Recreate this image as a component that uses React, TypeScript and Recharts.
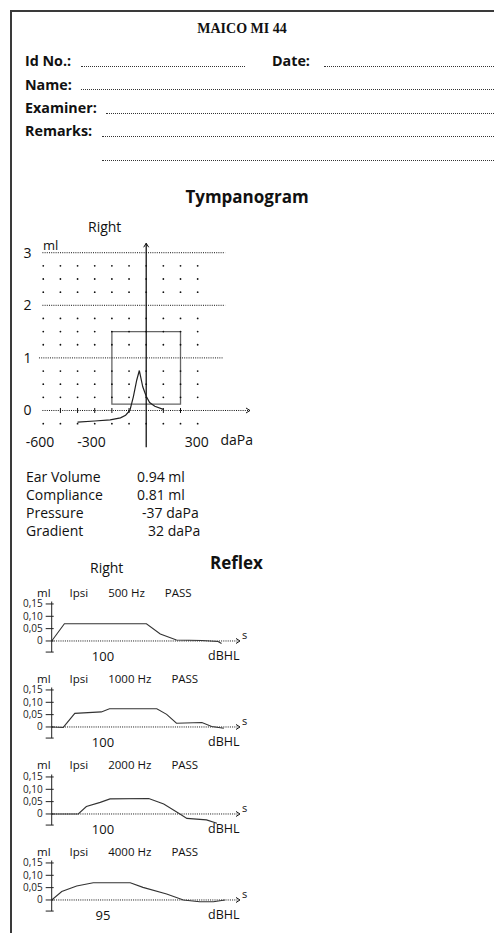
import React from "react";
import {
  ComposedChart,
  Line,
  Scatter,
  XAxis,
  YAxis,
  ReferenceLine,
  ReferenceArea,
  ReferenceDot,
} from "recharts";

const SANS = '"Open Sans", "Noto Sans", sans-serif';
const SERIF = '"Liberation Serif", "DejaVu Serif", serif';

// form header
const FORM_FIELDS = ["Id No.:", "Name:", "Examiner:", "Remarks:"];

// tympanogram curve (daPa / ml)
const TYMP_DAPA = [-400, -300, -210, -150, -120, -95, -75, -55, -40, -20, 0, 20, 50, 100];
const TYMP_ML = [-0.22, -0.2, -0.18, -0.14, -0.09, 0, 0.26, 0.58, 0.76, 0.45, 0.27, 0.15, 0.08, 0.02];
const TYMP_X_TICKS = [-600, -300, 300];
const TYMP_Y_TICKS = [0, 1, 2, 3];
const GRID_DAPA = [-600, -500, -400, -300, -200, -100, 0, 100, 200, 300];
const GRID_ML = [2.75, 2.5, 2.25, 1.75, 1.5, 1.25, 0.75, 0.5, 0.25, -0.25];
const ZERO_TICKS = [-500, -400, -300, -200, -100, 100, 200];
const NORMAL_DAPA = [-200, 200];
const NORMAL_ML = [0.12, 1.5];

const RESULT_LABELS = ["Ear Volume", "Compliance", "Pressure", "Gradient"];
const RESULT_VALUES = ["0.94 ml", "0.81 ml", "-37 daPa", "32 daPa"];

// acoustic reflex traces (s / ml)
const REFLEX_FREQ = ["500 Hz", "1000 Hz", "2000 Hz", "4000 Hz"];
const REFLEX_LEVEL = ["100", "100", "100", "95"];
const REFLEX_RESULT = ["PASS", "PASS", "PASS", "PASS"];
const REFLEX_T = [
  [0, 0.11, 0.82, 0.94, 1.08, 1.3, 1.44, 1.47],
  [0, 0.1, 0.2, 0.43, 0.5, 0.91, 0.995, 1.08, 1.3, 1.385, 1.49],
  [0, 0.23, 0.3, 0.42, 0.505, 0.84, 0.97, 1.11, 1.17, 1.34, 1.43],
  [0, 0.087, 0.216, 0.36, 0.476, 0.68, 0.79, 0.995, 1.14, 1.28, 1.4, 1.5],
];
const REFLEX_ML = [
  [0, 0.07, 0.07, 0.028, 0.004, 0.002, -0.002, -0.01],
  [0, -0.002, 0.055, 0.061, 0.074, 0.074, 0.051, 0.015, 0.018, 0.002, -0.005],
  [0, 0, 0.03, 0.047, 0.061, 0.063, 0.04, 0, -0.018, -0.024, -0.038],
  [0, 0.034, 0.057, 0.07, 0.07, 0.07, 0.051, 0.024, 0, -0.007, -0.007, 0],
];
const REFLEX_Y_TICKS = [-0.045, 0, 0.05, 0.1, 0.15];

const tympData = TYMP_DAPA.map((p, i) => ({ p, ml: TYMP_ML[i] }));
const gridDots = GRID_ML.flatMap((ml) => GRID_DAPA.map((p) => ({ p, ml })));
const zeroTicks = ZERO_TICKS.map((p) => ({ p, ml: 0 }));

function Txt({ x, y, size = 14, bold = false, family = SANS, children, style }: any) {
  return (
    <span
      style={{
        position: "absolute",
        left: x,
        top: y,
        transform: "translateY(-50%)",
        fontSize: size,
        fontWeight: bold ? 700 : 400,
        fontFamily: family,
        lineHeight: 1,
        whiteSpace: "nowrap",
        color: "#111",
        ...style,
      }}
    >
      {children}
    </span>
  );
}

function Dotted({ x1, x2, y }: { x1: number; x2: number; y: number }) {
  return (
    <div
      style={{
        position: "absolute",
        left: x1,
        top: y,
        width: x2 - x1,
        borderTop: "1px dotted #333",
      }}
    />
  );
}

const TympXTick = ({ x, y, payload }: any) => (
  <text x={x + 11} y={y - 2} textAnchor="end" fontSize={14} fill="#111" fontFamily={SANS}>
    {payload.value}
  </text>
);

const TympYTick = ({ x, y, payload }: any) => (
  <text x={x - 3} y={y} dy="0.35em" textAnchor="end" fontSize={14} fill="#111" fontFamily={SANS}>
    {payload.value}
  </text>
);

function Tympanogram() {
  return (
    <div style={{ position: "absolute", left: 0, top: 200 }}>
      <ComposedChart width={280} height={270} margin={{ top: 42.2, right: 24, bottom: 2.7, left: 6.4 }}>
        <XAxis
          type="number"
          dataKey="p"
          domain={[-640, 640]}
          allowDataOverflow
          ticks={TYMP_X_TICKS}
          interval={0}
          axisLine={false}
          tickLine={false}
          tickSize={0}
          tick={<TympXTick />}
          height={20}
          label={{
            content: (props: any) => (
              <text
                x={props.viewBox.x + props.viewBox.width - 3}
                y={props.viewBox.y - 2}
                textAnchor="end"
                fontSize={14}
                fill="#111"
                fontFamily={SANS}
              >
                daPa
              </text>
            ),
          }}
        />
        <YAxis
          type="number"
          domain={[-0.7, 3.2]}
          allowDataOverflow
          ticks={TYMP_Y_TICKS}
          interval={0}
          width={30}
          axisLine={false}
          tickLine={false}
          tickSize={0}
          tick={<TympYTick />}
        />
        {[3, 2].map((v) => (
          <ReferenceLine
            key={v}
            segment={[{ x: -605, y: v }, { x: 460, y: v }]}
            stroke="#111"
            strokeDasharray="1 1.2"
          />
        ))}
        <ReferenceLine segment={[{ x: -625, y: 1 }, { x: 445, y: 1 }]} stroke="#111" strokeDasharray="1 1.2" />
        <ReferenceLine segment={[{ x: -605, y: 0 }, { x: 605, y: 0 }]} stroke="#111" strokeDasharray="1 1.2" />
        <ReferenceLine segment={[{ x: 0, y: -0.7 }, { x: 0, y: 3.18 }]} stroke="#000" strokeWidth={1.2} />
        <ReferenceDot
          x={605}
          y={0}
          shape={(p: any) => (
            <path d={`M${p.cx - 4},${p.cy - 2.5} L${p.cx},${p.cy} L${p.cx - 4},${p.cy + 2.5}`} stroke="#111" fill="none" />
          )}
        />
        <ReferenceDot
          x={0}
          y={3.18}
          shape={(p: any) => (
            <path d={`M${p.cx - 2.5},${p.cy + 4} L${p.cx},${p.cy} L${p.cx + 2.5},${p.cy + 4}`} stroke="#111" fill="none" />
          )}
        />
        <ReferenceArea
          x1={NORMAL_DAPA[0]}
          x2={NORMAL_DAPA[1]}
          y1={NORMAL_ML[0]}
          y2={NORMAL_ML[1]}
          fill="none"
          fillOpacity={0}
          stroke="#666"
          strokeWidth={1.3}
        />
        <Scatter
          data={gridDots}
          dataKey="ml"
          isAnimationActive={false}
          shape={(p: any) => <circle cx={p.cx} cy={p.cy} r={0.9} fill="#111" />}
        />
        <Scatter
          data={zeroTicks}
          dataKey="ml"
          isAnimationActive={false}
          shape={(p: any) => <line x1={p.cx} x2={p.cx} y1={p.cy - 2.5} y2={p.cy + 2.5} stroke="#111" />}
        />
        <Line
          data={tympData}
          dataKey="ml"
          type="linear"
          stroke="#222"
          strokeWidth={1.2}
          dot={false}
          isAnimationActive={false}
        />
      </ComposedChart>
    </div>
  );
}

const ReflexYTick = ({ x, y, payload }: any) => {
  const v = payload.value as number;
  const label = v < 0 ? "" : v === 0 ? "0" : v.toFixed(2).replace(".", ",");
  return (
    <g>
      <line x1={x - 4} x2={x + 4} y1={y} y2={y} stroke="#222" />
      <text x={x - 7} y={y} dy="0.35em" textAnchor="end" fontSize={10} fill="#222" fontFamily={SANS}>
        {label}
      </text>
    </g>
  );
};

function Reflex({ idx }: { idx: number }) {
  const zero = 641 + 86.4 * idx;
  const data = REFLEX_T[idx].map((t, i) => ({ t, ml: REFLEX_ML[idx][i] }));
  return (
    <>
      <Txt x={37} y={zero - 48.5} size={11.5}>
        <span>ml</span>
        <span style={{ marginLeft: 19 }}>Ipsi</span>
        <span style={{ marginLeft: 20 }}>{REFLEX_FREQ[idx]}</span>
        <span style={{ marginLeft: 20 }}>{REFLEX_RESULT[idx]}</span>
      </Txt>
      <div style={{ position: "absolute", left: 0, top: zero - 45 }}>
        <ComposedChart width={260} height={62} margin={{ top: 5.5, right: 20, bottom: 5.93, left: 11.7 }}>
          <XAxis type="number" dataKey="t" domain={[0, 1.63]} allowDataOverflow hide />
          <YAxis
            type="number"
            domain={[-0.045, 0.16]}
            allowDataOverflow
            ticks={REFLEX_Y_TICKS}
            interval={0}
            width={40}
            axisLine={{ stroke: "#222" }}
            tickLine={false}
            tickSize={0}
            tick={<ReflexYTick />}
          />
          <ReferenceLine segment={[{ x: 0, y: 0 }, { x: 1.62, y: 0 }]} stroke="#111" strokeDasharray="1 1.2" />
          <ReferenceDot
            x={1.63}
            y={0}
            shape={(p: any) => (
              <path d={`M${p.cx - 4},${p.cy - 2.5} L${p.cx},${p.cy} L${p.cx - 4},${p.cy + 2.5}`} stroke="#111" fill="none" />
            )}
          />
          <Line
            data={data}
            dataKey="ml"
            type="linear"
            stroke="#333"
            strokeWidth={1.1}
            dot={false}
            isAnimationActive={false}
          />
        </ComposedChart>
      </div>
      <Txt x={242} y={zero - 7} size={11}>s</Txt>
      <Txt x={103} y={zero + 15} size={13} style={{ transform: "translate(-50%, -50%)" }}>
        {REFLEX_LEVEL[idx]}
      </Txt>
      <Txt x={208} y={zero + 15} size={12.5}>dBHL</Txt>
    </>
  );
}

export default function App() {
  const rowY = [61, 84.5, 108, 131];
  const lineStart = [81, 81, 106, 102];
  return (
    <div
      style={{
        position: "absolute",
        left: 0,
        top: 0,
        width: 494,
        height: 933,
        overflow: "hidden",
        background: "#fff",
        fontFamily: SANS,
      }}
    >
      <div
        style={{
          position: "absolute",
          left: 10,
          top: 10,
          width: 600,
          height: 1000,
          border: "2px solid #3a3a3a",
        }}
      />
      <Txt x={242} y={29} size={14} bold family={SERIF} style={{ transform: "translate(-50%, -50%)" }}>
        MAICO MI 44
      </Txt>
      {FORM_FIELDS.map((f, i) => (
        <React.Fragment key={f}>
          <Txt x={25} y={rowY[i]} size={14.3} bold>
            {f}
          </Txt>
          <Dotted x1={lineStart[i]} x2={i === 0 ? 245 : 494} y={rowY[i] + 4.5} />
        </React.Fragment>
      ))}
      <Txt x={272} y={61} size={14.3} bold>
        Date:
      </Txt>
      <Dotted x1={324} x2={494} y={65.5} />
      <Dotted x1={102} x2={494} y={160} />

      <Txt x={247} y={196} size={17} bold style={{ transform: "translate(-50%, -50%)" }}>
        Tympanogram
      </Txt>
      <Txt x={88} y={227} size={14}>Right</Txt>
      <Txt x={43} y={245} size={13}>ml</Txt>
      <Tympanogram />

      {RESULT_LABELS.map((l, i) => (
        <React.Fragment key={l}>
          <Txt x={26} y={477 + 18 * i} size={14}>{l}</Txt>
          <Txt x={[137, 137, 142, 148][i]} y={477 + 18 * i} size={14}>
            {RESULT_VALUES[i]}
          </Txt>
        </React.Fragment>
      ))}

      <Txt x={210} y={562} size={17} bold>Reflex</Txt>
      <Txt x={90} y={568} size={14}>Right</Txt>
      {REFLEX_FREQ.map((f, i) => (
        <Reflex key={f} idx={i} />
      ))}
    </div>
  );
}
